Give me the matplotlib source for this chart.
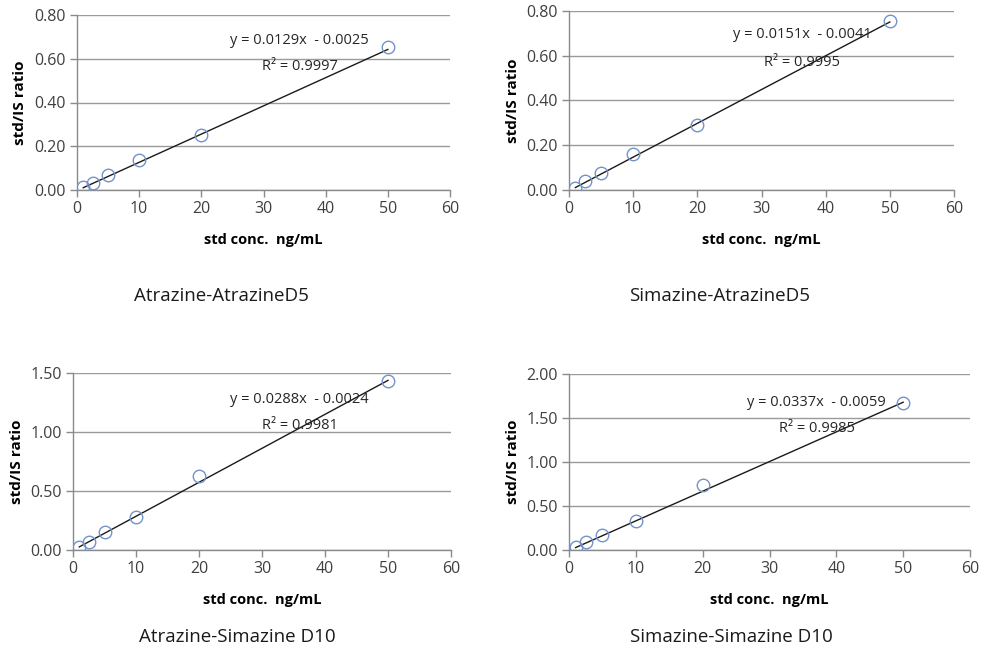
import matplotlib
matplotlib.use("Agg")
import matplotlib.pyplot as plt
import numpy as np

plt.rcParams["font.family"] = ["Open Sans", "DejaVu Sans"]

# ── data ─────────────────────────────────────────────────────────────────────
conc = [1, 2.5, 5, 10, 20, 50]

ratio_atr_atrd5 = [0.012, 0.034, 0.069, 0.137, 0.250, 0.652]
ratio_sim_atrd5 = [0.007, 0.040, 0.077, 0.160, 0.289, 0.756]
ratio_atr_simd10 = [0.028, 0.070, 0.155, 0.276, 0.625, 1.428]
ratio_sim_simd10 = [0.038, 0.095, 0.174, 0.326, 0.735, 1.667]

slopes = [0.0129, 0.0151, 0.0288, 0.0337]
intercepts = [-0.0025, -0.0041, -0.0024, -0.0059]
r2_values = [0.9997, 0.9995, 0.9981, 0.9985]

captions = ["Atrazine-AtrazineD5", "Simazine-AtrazineD5",
            "Atrazine-Simazine D10", "Simazine-Simazine D10"]
y_max = [0.80, 0.80, 1.50, 2.00]
y_step = [0.20, 0.20, 0.50, 0.50]

# ── layout (pixel boxes: left, right, top, bottom) ───────────────────────────
W, H = 982, 650
boxes = [(77, 450, 15, 190), (569, 954, 11, 190),
         (73, 451, 373, 550), (569, 970, 374, 550)]
eq_pos = [(0.595, 0.857, 0.598, 0.703), (0.605, 0.866, 0.605, 0.71),
          (0.60, 0.853, 0.60, 0.706), (0.618, 0.84, 0.618, 0.693)]
ylab_right = [27, 520, 24, 520]      # pixel x of the right edge of y label
caption_pos = [(221, 296), (720, 296), (237, 637), (731, 637)]

series = [ratio_atr_atrd5, ratio_sim_atrd5, ratio_atr_simd10, ratio_sim_simd10]

fig = plt.figure(figsize=(W / 100, H / 100), dpi=100)

for k in range(4):
    l, r, t, b = boxes[k]
    ax = fig.add_axes([l / W, (H - b) / H, (r - l) / W, (b - t) / H])

    x = np.array(conc)
    ax.plot(x, series[k], "o", mfc="none", mec="#7393c8", mew=1.0, ms=9,
            zorder=3)
    xf = np.array([x.min(), x.max()])
    ax.plot(xf, slopes[k] * xf + intercepts[k], color="#1a1a1a", lw=1.0,
            zorder=2)

    ax.set_xlim(0, 60)
    ax.set_ylim(0, y_max[k])
    ax.set_xticks(range(0, 61, 10))
    ax.set_yticks(np.arange(0, y_max[k] + 1e-9, y_step[k]))
    ax.set_yticklabels([f"{v:.2f}" for v in ax.get_yticks()])

    ax.grid(axis="y", color="#9a9a9a", lw=1.0)
    ax.set_axisbelow(True)
    for s in ("top", "right"):
        ax.spines[s].set_visible(False)
    for s in ("left", "bottom"):
        ax.spines[s].set_color("#8a8a8a")
        ax.spines[s].set_linewidth(1.0)
    ax.tick_params(axis="both", direction="out", length=5, width=1.0,
                   color="#8a8a8a", labelsize=11.5, labelcolor="#404040",
                   pad=3)

    ax.set_xlabel("std conc.  ng/mL", fontsize=10.5, fontweight="bold")
    ax.set_ylabel("std/IS ratio", fontsize=11, fontweight="bold")
    ax.xaxis.set_label_coords(0.5, -43 / (b - t))
    ax.yaxis.set_label_coords((ylab_right[k] - l) / (r - l), 0.5)

    ex, ey, rx, ry = eq_pos[k]
    ax.text(ex, ey, f"y = {slopes[k]:.4f}x  - {abs(intercepts[k]):.4f}",
            transform=ax.transAxes, ha="center", va="center", fontsize=10.5,
            color="#262626")
    ax.text(rx, ry, f"R² = {r2_values[k]:.4f}", transform=ax.transAxes,
            ha="center", va="center", fontsize=10.5, color="#262626")

    cx, cy = caption_pos[k]
    fig.text(cx / W, 1 - cy / H, captions[k], ha="center", va="center",
             fontsize=13.5, color="#1a1a1a")

fig.savefig("out.png", dpi=100)
